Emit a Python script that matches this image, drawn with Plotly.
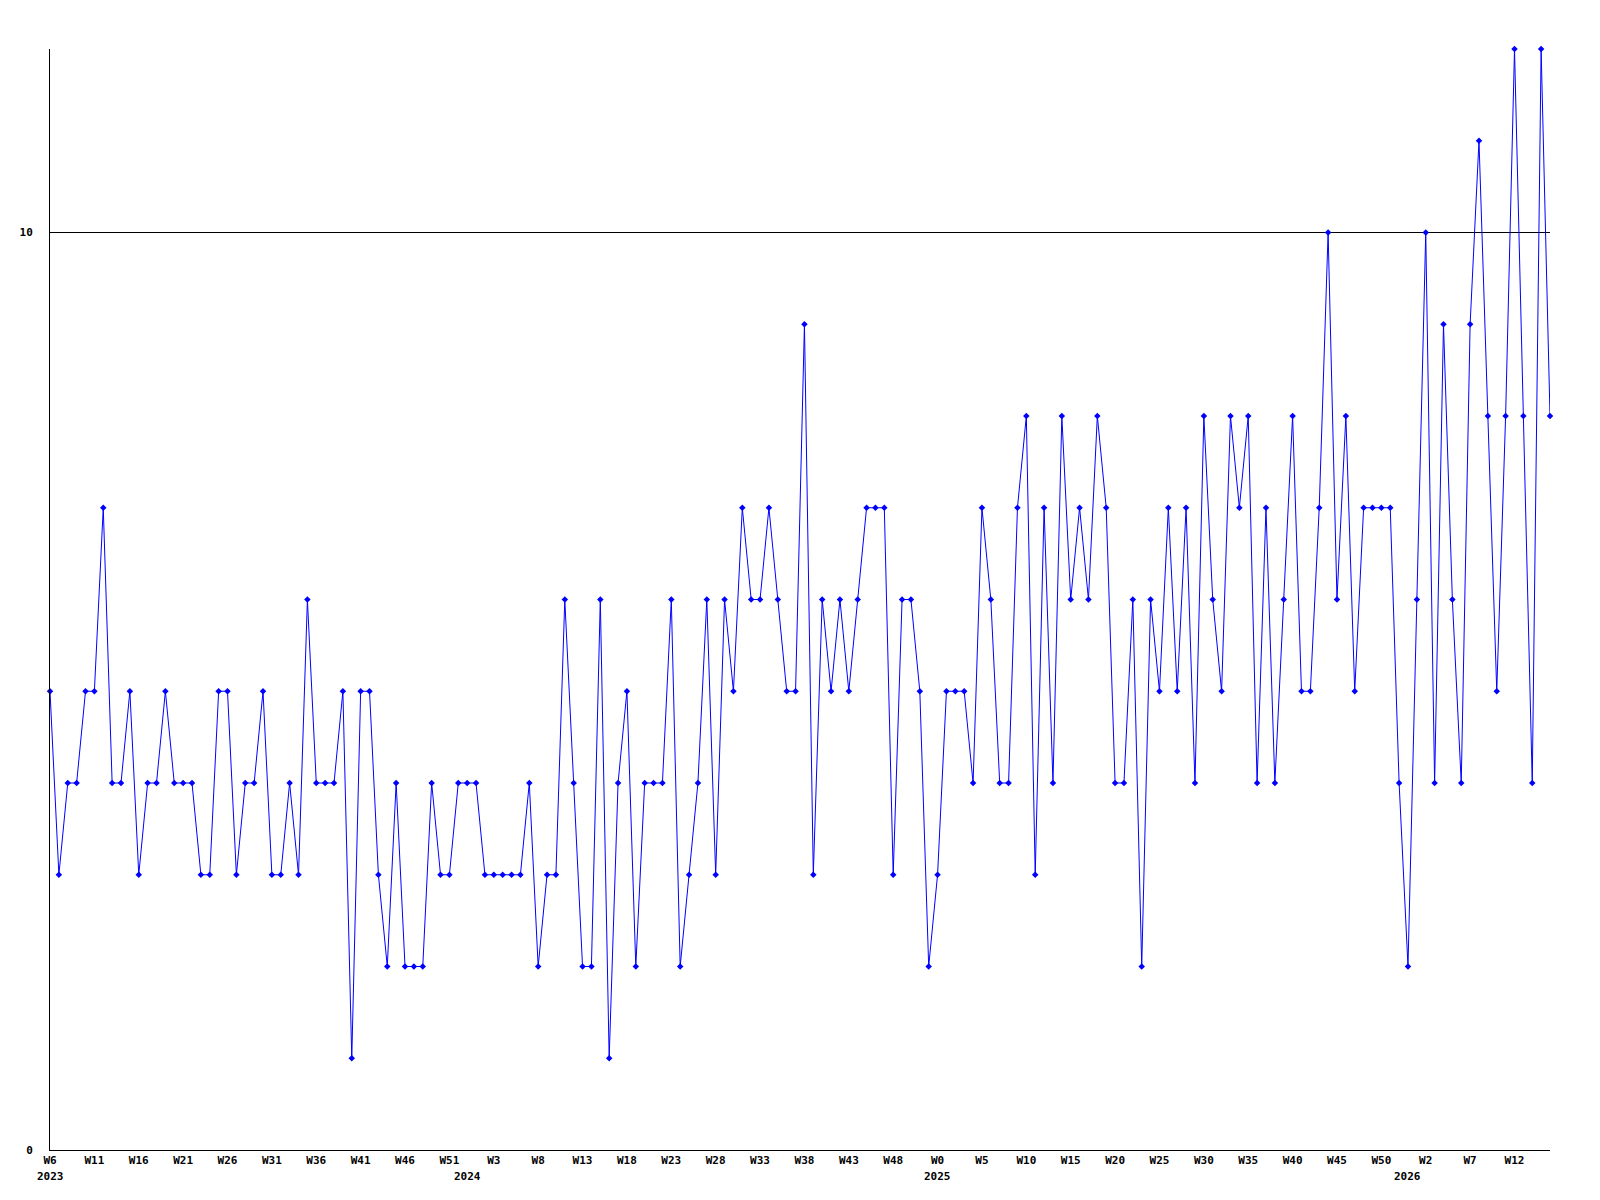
import plotly.graph_objects as go

# Week categories: 2023 W6..W52, 2024 W0..W52, 2025 W0..W52, 2026 W0..W16
years = [2023, 2024, 2025, 2026]
first_week = [6, 0, 0, 0]
last_week = [52, 52, 52, 16]

weeks = []
for yr, a, b in zip(years, first_week, last_week):
    for w in range(a, b + 1):
        weeks.append(f"{yr}-W{w}")

values = [
    5, 3, 4, 4, 5, 5, 7, 4, 4, 5,
    3, 4, 4, 5, 4, 4, 4, 3, 3, 5,
    5, 3, 4, 4, 5, 3, 3, 4, 3, 6,
    4, 4, 4, 5, 1, 5, 5, 3, 2, 4,
    2, 2, 2, 4, 3, 3, 4, 4, 4, 3,
    3, 3, 3, 3, 4, 2, 3, 3, 6, 4,
    2, 2, 6, 1, 4, 5, 2, 4, 4, 4,
    6, 2, 3, 4, 6, 3, 6, 5, 7, 6,
    6, 7, 6, 5, 5, 9, 3, 6, 5, 6,
    5, 6, 7, 7, 7, 3, 6, 6, 5, 2,
    3, 5, 5, 5, 4, 7, 6, 4, 4, 7,
    8, 3, 7, 4, 8, 6, 7, 6, 8, 7,
    4, 4, 6, 2, 6, 5, 7, 5, 7, 4,
    8, 6, 5, 8, 7, 8, 4, 7, 4, 6,
    8, 5, 5, 7, 10, 6, 8, 5, 7, 7,
    7, 7, 4, 2, 6, 10, 4, 9, 6, 4,
    9, 11, 8, 5, 8, 12, 8, 4, 12, 8,
]

tick_vals = weeks[::5]
tick_text = [w.split("-")[1] for w in tick_vals]

year_labels = ["2023", "2024", "2025", "2026"]
year_positions = ["2023-W6", "2024-W0", "2025-W0", "2026-W0"]

y_tick_vals = [0, 10]
y_tick_text = ["0", "10"]

font_family = "DejaVu Sans Mono"

fig = go.Figure()
fig.add_trace(go.Scatter(
    x=weeks,
    y=values,
    mode="lines+markers",
    line=dict(color="#0000ff", width=1),
    marker=dict(color="#0000ff", size=5, symbol="diamond"),
    cliponaxis=False,
    showlegend=False,
))

for lab, pos in zip(year_labels, year_positions):
    fig.add_annotation(
        x=pos, y=0, xref="x", yref="paper",
        text=f"<b>{lab}</b>", showarrow=False,
        yanchor="top", yshift=-18,
        font=dict(family=font_family, size=11, color="black"),
    )

fig.update_layout(
    width=1600, height=1200,
    margin=dict(l=42, r=58, t=41, b=58),
    paper_bgcolor="white",
    plot_bgcolor="white",
)

fig.update_xaxes(
    type="category",
    categoryorder="array",
    categoryarray=weeks,
    range=[0, len(weeks) - 1],
    tickmode="array",
    tickvals=tick_vals,
    ticktext=[f"<b>{t}</b>" for t in tick_text],
    tickangle=0,
    showgrid=False,
    showline=True,
    linecolor="black",
    linewidth=1,
    ticks="",
    tickfont=dict(family=font_family, size=11, color="black"),
    zeroline=False,
)

fig.update_yaxes(
    range=[0, 12],
    tickmode="array",
    tickvals=y_tick_vals,
    ticktext=[f"<b>{t}</b>" for t in y_tick_text],
    showgrid=True,
    gridcolor="black",
    gridwidth=1,
    showline=True,
    linecolor="black",
    linewidth=1,
    ticks="",
    ticklabelstandoff=14,
    tickfont=dict(family=font_family, size=11, color="black"),
    zeroline=False,
)

fig.write_html("out.html")
